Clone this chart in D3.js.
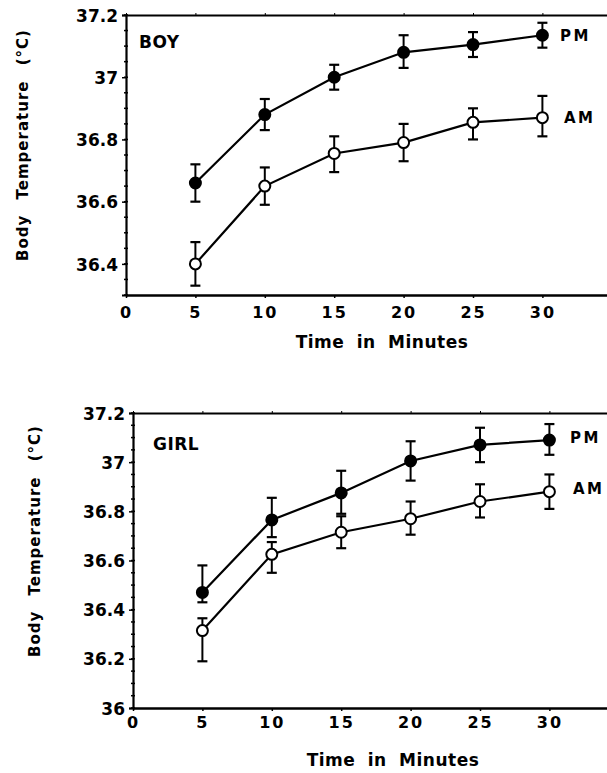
<!DOCTYPE html>
<head>
	<script src="https://d3js.org/d3.v7.min.js"></script>
	<style>
		body { margin: 0; background: #fff; }
		svg { display: block; }
		text { font-family: "DejaVu Sans", sans-serif; font-weight: bold; fill: #000; }
	</style>
</head>
<body>
<svg></svg>
<script>
	// values (deg C)
	var times = [5, 10, 15, 20, 25, 30];
	var timeTicks = [0, 5, 10, 15, 20, 25, 30];

	var boyTicks = [36.4, 36.6, 36.8, 37, 37.2];
	var boyPM   = [36.66, 36.88, 37.00, 37.08, 37.105, 37.135];
	var boyPMHi = [36.72, 36.93, 37.04, 37.135, 37.145, 37.175];
	var boyPMLo = [36.60, 36.83, 36.96, 37.03, 37.065, 37.095];
	var boyAM   = [36.40, 36.65, 36.755, 36.79, 36.855, 36.87];
	var boyAMHi = [36.47, 36.71, 36.81, 36.85, 36.90, 36.94];
	var boyAMLo = [36.33, 36.59, 36.695, 36.73, 36.80, 36.81];

	var girlTicks = [36, 36.2, 36.4, 36.6, 36.8, 37, 37.2];
	var girlPM   = [36.47, 36.765, 36.875, 37.005, 37.07, 37.09];
	var girlPMHi = [36.58, 36.855, 36.965, 37.085, 37.14, 37.155];
	var girlPMLo = [36.43, 36.695, 36.79, 36.925, 37.0, 37.03];
	var girlAM   = [36.315, 36.625, 36.715, 36.77, 36.84, 36.88];
	var girlAMHi = [36.365, 36.675, 36.78, 36.84, 36.91, 36.95];
	var girlAMLo = [36.19, 36.55, 36.65, 36.705, 36.775, 36.81];

	var width = 607;
	var height = 773;

	var svg = d3.select("svg")
		.attr("width", width)
		.attr("height", height);

	function panel(cfg) {
		var x = d3.scaleLinear().domain([0, 35]).range([cfg.left, cfg.left + 7 * 69.4]);
		var y = d3.scaleLinear().domain(cfg.yDomain).range([cfg.bottom, cfg.top]);
		var g = svg.append("g");

		// minor ticks on y axis
		var minor = d3.range(cfg.yDomain[0], cfg.yDomain[1] + 0.001, 0.05);
		g.selectAll(".minor").data(minor).enter().append("line")
			.attr("x1", cfg.left - 2).attr("x2", cfg.left + 2)
			.attr("y1", function(d) { return y(d); })
			.attr("y2", function(d) { return y(d); })
			.attr("stroke", "#000").attr("stroke-width", 1.5);

		var yAxis = d3.axisLeft(y).tickValues(cfg.yTicks).tickSize(4).tickPadding(4)
			.tickFormat(function(d) { return d; });
		var ya = g.append("g").attr("transform", "translate(" + cfg.left + ",0)").call(yAxis);
		ya.select(".domain").attr("stroke-width", 2.2);
		ya.selectAll(".tick line").attr("stroke-width", 1.5);
		ya.selectAll(".tick text").style("font-size", "17px").attr("dy", "0.36em");

		var xAxis = d3.axisBottom(x).tickValues(timeTicks).tickSize(3).tickPadding(cfg.xPad)
			.tickSizeOuter(0);
		var xa = g.append("g").attr("transform", "translate(0," + cfg.bottom + ")").call(xAxis);
		xa.select(".domain").attr("stroke-width", 2.6);
		xa.selectAll(".tick line").attr("stroke-width", 1.5);
		xa.selectAll(".tick text").style("font-size", "16px").style("letter-spacing", "2px");

		// top border with small ticks
		var topAxis = d3.axisTop(x).tickValues(timeTicks).tickSize(2).tickFormat("").tickSizeOuter(0);
		var ta = g.append("g").attr("transform", "translate(0," + cfg.top + ")").call(topAxis);
		ta.select(".domain").attr("stroke-width", 2.2);

		// axis titles
		g.append("text")
			.attr("transform", "translate(" + cfg.yTitleX + "," + cfg.yTitleY + ") rotate(-90)")
			.attr("text-anchor", "middle")
			.style("font-size", "15px").style("letter-spacing", "1px").style("word-spacing", "9px")
			.text("Body Temperature (\u00B0C)");
		g.append("text")
			.attr("x", cfg.xTitleX).attr("y", cfg.xTitleY)
			.attr("text-anchor", "middle")
			.style("font-size", "17px").style("letter-spacing", "0.5px").style("word-spacing", "6px")
			.text("Time in Minutes");

		g.append("text").attr("x", cfg.nameX).attr("y", cfg.nameY)
			.style("font-size", "17px").style("letter-spacing", "0.5px").text(cfg.name);

		var series = [
			{ v: cfg.pm, hi: cfg.pmHi, lo: cfg.pmLo, fill: "#000", label: "PM", lx: cfg.pmLabel[0], ly: cfg.pmLabel[1] },
			{ v: cfg.am, hi: cfg.amHi, lo: cfg.amLo, fill: "#fff", label: "AM", lx: cfg.amLabel[0], ly: cfg.amLabel[1] }
		];

		var line = d3.line()
			.x(function(d, i) { return x(times[i]); })
			.y(function(d) { return y(d); });

		series.forEach(function(s) {
			g.append("path").datum(s.v)
				.attr("d", line).attr("fill", "none")
				.attr("stroke", "#000").attr("stroke-width", 2.2);

			var eb = g.selectAll(null).data(s.v).enter().append("g");
			eb.append("line")
				.attr("x1", function(d, i) { return x(times[i]); })
				.attr("x2", function(d, i) { return x(times[i]); })
				.attr("y1", function(d, i) { return y(s.hi[i]); })
				.attr("y2", function(d, i) { return y(s.lo[i]); })
				.attr("stroke", "#000").attr("stroke-width", 2);
			[s.hi, s.lo].forEach(function(arr) {
				eb.append("line")
					.attr("x1", function(d, i) { return x(times[i]) - 5; })
					.attr("x2", function(d, i) { return x(times[i]) + 5; })
					.attr("y1", function(d, i) { return y(arr[i]); })
					.attr("y2", function(d, i) { return y(arr[i]); })
					.attr("stroke", "#000").attr("stroke-width", 2.2);
			});

			g.selectAll(null).data(s.v).enter().append("circle")
				.attr("cx", function(d, i) { return x(times[i]); })
				.attr("cy", function(d) { return y(d); })
				.attr("r", 5.5)
				.attr("fill", s.fill)
				.attr("stroke", "#000").attr("stroke-width", 2);

			g.append("text").attr("x", s.lx).attr("y", s.ly)
				.style("font-size", "15px").style("letter-spacing", "2.5px").text(s.label);
		});
	}

	panel({
		left: 126, top: 15, bottom: 295, yDomain: [36.3, 37.2], yTicks: boyTicks, xPad: 9,
		pm: boyPM, pmHi: boyPMHi, pmLo: boyPMLo, am: boyAM, amHi: boyAMHi, amLo: boyAMLo,
		name: "BOY", nameX: 139, nameY: 48,
		pmLabel: [560, 41], amLabel: [564, 123],
		yTitleX: 28, yTitleY: 145, xTitleX: 382, xTitleY: 348
	});

	panel({
		left: 133, top: 413, bottom: 708, yDomain: [36, 37.2], yTicks: girlTicks, xPad: 6,
		pm: girlPM, pmHi: girlPMHi, pmLo: girlPMLo, am: girlAM, amHi: girlAMHi, amLo: girlAMLo,
		name: "GIRL", nameX: 153, nameY: 450,
		pmLabel: [570, 443], amLabel: [573, 494],
		yTitleX: 40, yTitleY: 541, xTitleX: 393, xTitleY: 766
	});
</script>
</body>
</html>
